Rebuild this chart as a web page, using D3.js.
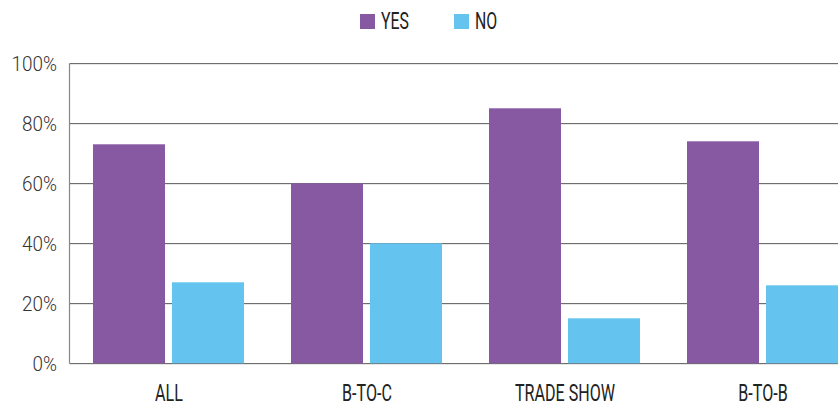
<!DOCTYPE html>
<html>
<head>
<meta charset="utf-8">
<script src="https://cdn.jsdelivr.net/npm/d3@7"></script>
<style>
  html, body { margin: 0; padding: 0; background: #fff; overflow: hidden; }
  svg { display: block; }
</style>
</head>
<body>
<svg id="chart" width="838" height="407"></svg>
<script>
// Survey answers by audience segment (share of respondents, %)
const categories = ["ALL", "B-TO-C", "TRADE SHOW", "B-TO-B"];
const seriesNames = ["YES", "NO"];
const yesValues = [73, 60, 85, 74];
const noValues = [27, 40, 15, 26];
const yTicks = [0, 20, 40, 60, 80, 100];
const colors = { YES: "#8759a3", NO: "#64c3ef" };

const rows = categories.map((c, i) => ({ category: c, YES: yesValues[i], NO: noValues[i] }));

const svg = d3.select("#chart");
const margin = { left: 69.5, top: 63.3, bottom: 363.3 };
const step = 198;

const x = d3.scaleBand()
  .domain(categories)
  .range([margin.left, margin.left + step * categories.length])
  .paddingInner(47 / 198)
  .paddingOuter(23.5 / 198);

const xSub = d3.scaleBand()
  .domain(seriesNames)
  .range([0, x.bandwidth()])
  .paddingInner(7 / 79)
  .paddingOuter(0);

const y = d3.scaleLinear().domain([0, 100]).range([margin.bottom, margin.top]);

// narrow the glyphs horizontally around each label's anchor
const condensed = (sel, sx) => sel.attr("transform", function () {
  return d3.select(this).attr("data-t") + ` scale(${sx},1)`;
});

// Horizontal gridlines
const grid = svg.append("g");
grid.selectAll("line.shade")
  .data(yTicks)
  .join("line")
  .attr("x1", margin.left).attr("x2", 838)
  .attr("y1", d => Math.round(y(d)) + 1.5).attr("y2", d => Math.round(y(d)) + 1.5)
  .attr("stroke", "#e6e6e6").attr("stroke-width", 1);
grid.selectAll("line.main")
  .data(yTicks)
  .join("line")
  .attr("x1", margin.left).attr("x2", 838)
  .attr("y1", d => Math.round(y(d)) + 0.5).attr("y2", d => Math.round(y(d)) + 0.5)
  .attr("stroke", "#6e6e6e").attr("stroke-width", 1.2);

// Left axis line
svg.append("line")
  .attr("x1", margin.left).attr("x2", margin.left)
  .attr("y1", Math.round(y(100)) + 0.5).attr("y2", Math.round(y(0)) + 0.5)
  .attr("stroke", "#888").attr("stroke-width", 1.2);

// Bars
const groups = svg.append("g").selectAll("g")
  .data(rows)
  .join("g")
  .attr("transform", d => `translate(${x(d.category)},0)`);

groups.selectAll("rect")
  .data(d => seriesNames.map(s => ({ key: s, value: d[s] })))
  .join("rect")
  .attr("x", d => xSub(d.key))
  .attr("width", xSub.bandwidth())
  .attr("y", d => y(d.value))
  .attr("height", d => y(0) - y(d.value))
  .attr("fill", d => colors[d.key]);

// Y tick labels
svg.append("g").selectAll("text")
  .data(yTicks)
  .join("text")
  .attr("data-t", d => `translate(57,${y(d) + 7.5})`)
  .call(condensed, 0.9)
  .attr("text-anchor", "end")
  .attr("font-family", "Roboto")
  .attr("font-weight", 300)
  .attr("font-size", 21)
  .attr("fill", "#333")
  .text(d => d + "%");

// Category labels
svg.append("g").selectAll("text")
  .data(categories)
  .join("text")
  .attr("data-t", d => `translate(${x(d) + x.bandwidth() / 2 + 0.5},401)`)
  .call(condensed, 0.7)
  .attr("text-anchor", "middle")
  .attr("font-family", "Roboto")
  .attr("font-weight", 400)
  .attr("font-size", 23)
  .attr("fill", "#222")
  .text(d => d);

// Legend
const legendPos = { YES: 360, NO: 454 };
const legend = svg.append("g").selectAll("g")
  .data(seriesNames)
  .join("g")
  .attr("transform", d => `translate(${legendPos[d]},14)`);
legend.append("rect")
  .attr("width", 15).attr("height", 15)
  .attr("fill", d => colors[d]);
legend.append("text")
  .attr("data-t", "translate(21,15)")
  .call(condensed, 0.66)
  .attr("font-family", "Roboto")
  .attr("font-weight", 400)
  .attr("font-size", 24)
  .attr("fill", "#222")
  .text(d => d);
</script>
</body>
</html>
